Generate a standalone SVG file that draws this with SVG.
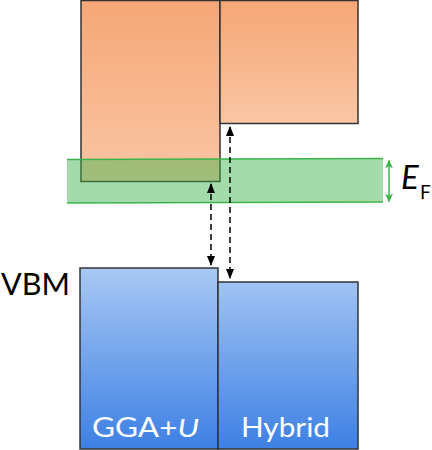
<svg xmlns="http://www.w3.org/2000/svg" width="432" height="450" viewBox="0 0 432 450">
<defs>
<linearGradient id="gOr" x1="0" y1="0" x2="0" y2="1">
<stop offset="0" stop-color="#f6a676"/>
<stop offset="1" stop-color="#f9c6a4"/>
</linearGradient>
<linearGradient id="gBl" gradientUnits="userSpaceOnUse" x1="0" y1="268" x2="0" y2="449">
<stop offset="0" stop-color="#a8c8f4"/>
<stop offset="1" stop-color="#3d80e4"/>
</linearGradient>
<marker id="ah" viewBox="0 0 10 10" refX="9" refY="5" markerWidth="10" markerHeight="8" orient="auto-start-reverse" markerUnits="userSpaceOnUse" preserveAspectRatio="none">
<path d="M0,0 L10,5 L0,10 Z" fill="#000"/>
</marker>
<marker id="ahg" viewBox="0 0 10 10" refX="9" refY="5" markerWidth="9" markerHeight="8" orient="auto-start-reverse" markerUnits="userSpaceOnUse" preserveAspectRatio="none">
<path d="M0,0 L10,5 L0,10 L3,5 Z" fill="#3cb44b"/>
</marker>
<style>
.box{stroke:#333;stroke-width:1.5}
.lbl{font-family:"Lato","Open Sans",sans-serif;fill:#000}
.wl{font-family:"Lato","Open Sans",sans-serif;fill:#fff;font-size:26px}
.dash{stroke:#000;stroke-width:1.5;stroke-dasharray:6,4;fill:none}
</style>
</defs>
<g id="cb-gga">
<rect class="box" x="81" y="0.5" width="139" height="181" fill="url(#gOr)"/>
</g>
<g id="cb-hybrid">
<rect class="box" x="220" y="0.5" width="138" height="123" fill="url(#gOr)"/>
</g>
<g id="fermi">
<polygon points="67,159.5 383,158.5 383,202 67,203" fill="#3cb44b" fill-opacity="0.47"/>
<line x1="67" y1="159.5" x2="383" y2="158.5" stroke="#3cb44b" stroke-width="1.5"/>
<line x1="67" y1="203" x2="383" y2="202" stroke="#3cb44b" stroke-width="1.5"/>
<line x1="389" y1="160.5" x2="389" y2="201.5" stroke="#3cb44b" stroke-width="1.5" marker-start="url(#ahg)" marker-end="url(#ahg)"/>
<text class="lbl" x="401" y="189" font-size="33" font-style="italic">E</text>
<text class="lbl" x="420" y="199" font-size="19">F</text>
</g>
<g id="vb-gga">
<rect class="box" x="80" y="268" width="138" height="181" fill="url(#gBl)"/>
<text class="wl" x="92" y="437" textLength="107" lengthAdjust="spacingAndGlyphs">GGA+<tspan font-style="italic">U</tspan></text>
</g>
<g id="vb-hybrid">
<rect class="box" x="218" y="282" width="140" height="167" fill="url(#gBl)"/>
<text class="wl" x="241" y="437" textLength="89" lengthAdjust="spacingAndGlyphs">Hybrid</text>
</g>
<g id="vbm">
<text class="lbl" x="1" y="295" font-size="31" textLength="69" lengthAdjust="spacingAndGlyphs">VBM</text>
</g>
<g id="connectors">
<line class="dash" x1="211" y1="184" x2="211" y2="265" marker-start="url(#ah)" marker-end="url(#ah)"/>
<line class="dash" x1="230" y1="127" x2="230" y2="278" marker-start="url(#ah)" marker-end="url(#ah)"/>
</g>
</svg>
